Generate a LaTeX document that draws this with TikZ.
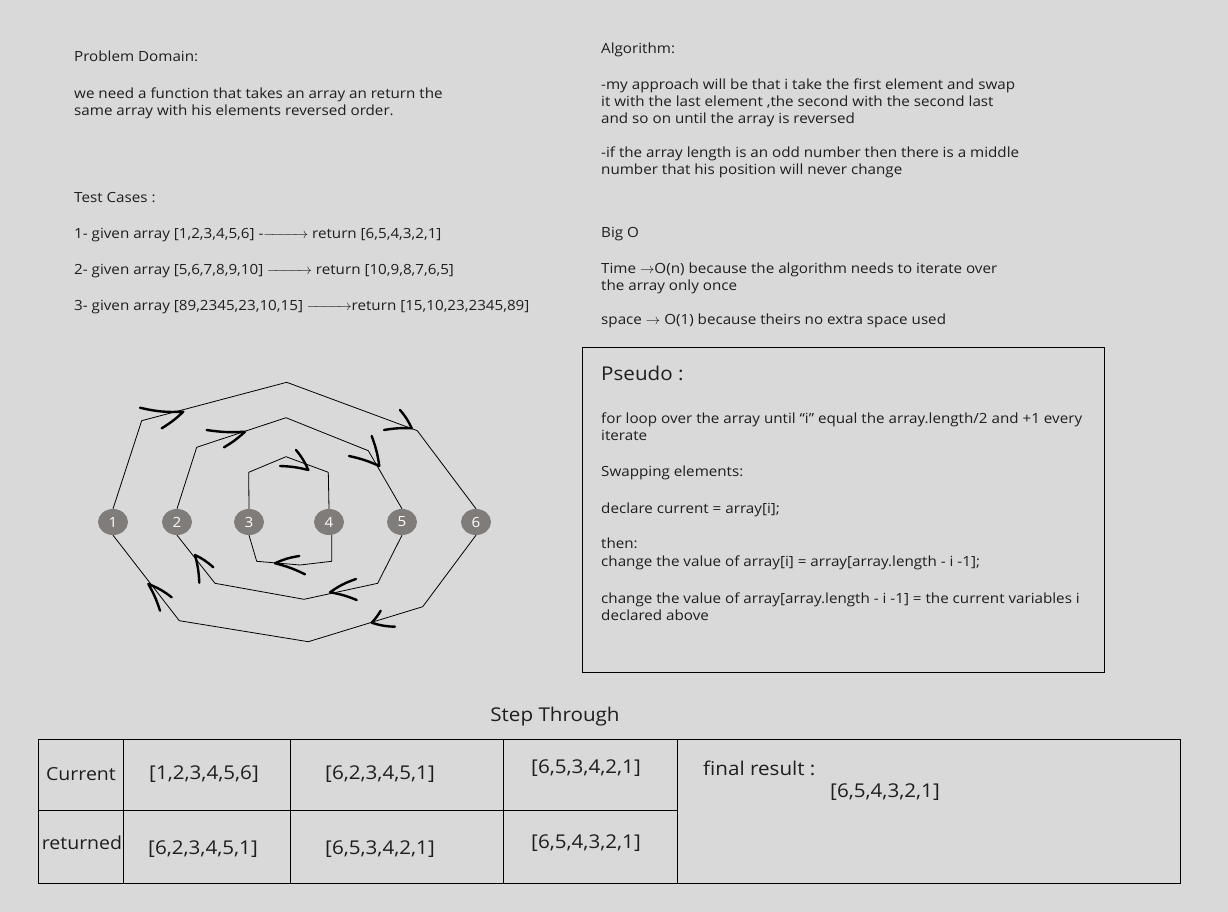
\documentclass[tikz,border=0pt]{standalone}
\usepackage{fontspec}
\usepackage{amsmath}
\setmainfont{Open Sans}[FakeStretch=1.085]
\usetikzlibrary{shapes.geometric}
\definecolor{bg}{HTML}{D9D9D9}
\definecolor{ink}{HTML}{1E1E1E}
\definecolor{dotc}{HTML}{7F7C7A}
\newcommand{\longarr}{$\xrightarrow{\hspace{37pt}}$}
\begin{document}
\begin{tikzpicture}[x=1pt,y=-1pt,
  txt/.style={anchor=base west, inner sep=0pt, text=ink, font=\fontsize{14}{17}\selectfont},
  bigtxt/.style={anchor=base west, inner sep=0pt, text=ink, font=\fontsize{19}{23}\selectfont},
  cell/.style={inner sep=0pt, text=ink, font=\fontsize{19}{23}\selectfont},
  dotnode/.style={ellipse, fill=dotc, minimum width=30pt, minimum height=26pt, inner sep=0pt, text=white, font=\fontsize{14}{17}\selectfont},
  wire/.style={draw=black, line width=0.8pt, line join=round},
  chev/.style={draw=black, line width=2.4pt, line cap=round, line join=round},
  frame/.style={draw=black, line width=0.9pt}]
\fill[bg] (0,0) rectangle (1228,912);
\useasboundingbox (0,0) rectangle (1228,912);

% Problem domain
\node[txt] (pd) at (74,62) {Problem Domain:};
\node[txt] (pd1) at (74,99) {we need a function that takes an array an return the};
\node[txt] (pd2) at (74,116) {same array with his elements reversed order.};
% Test cases
\node[txt] (tc) at (74,202) {Test Cases :};
\node[txt] (tc1) at (74,238) {1- given array [1,2,3,4,5,6] -\longarr{} return [6,5,4,3,2,1]};
\node[txt] (tc2) at (74,274) {2- given array [5,6,7,8,9,10] \longarr{} return [10,9,8,7,6,5]};
\node[txt] (tc3) at (74,310) {3- given array [89,2345,23,10,15] \longarr{}return [15,10,23,2345,89]};
% Algorithm
\node[txt] (al) at (601,54) {Algorithm:};
\node[txt] (al1) at (601,90) {-my approach will be that i take the first element and swap};
\node[txt] (al2) at (601,107) {it with the last element ,the second with the second last};
\node[txt] (al3) at (601,124) {and so on until the array is reversed};
\node[txt] (al4) at (601,158) {-if the array length is an odd number then there is a middle};
\node[txt] (al5) at (601,175) {number that his position will never change};
% Big O
\node[txt] (bo) at (601,237) {Big O};
\node[txt] (bo1) at (601,273) {Time $\rightarrow$O(n) because the algorithm needs to iterate over};
\node[txt] (bo2) at (601,290) {the array only once};
\node[txt] (bo3) at (601,324) {space $\rightarrow$ O(1) because theirs no extra space used};
% Pseudo
\draw[frame] (582,347) rectangle (1104,672);
\node[bigtxt] (ps) at (601,380) {Pseudo :};
\node[txt] (ps1) at (601,423) {for loop over the array until “i” equal the array.length/2 and +1 every};
\node[txt] (ps2) at (601,440) {iterate};
\node[txt] (ps3) at (601,476) {Swapping elements:};
\node[txt] (ps4) at (601,513) {declare current = array[i];};
\node[txt] (ps5) at (601,548) {then:};
\node[txt] (ps6) at (601,566) {change the value of array[i] = array[array.length - i -1];};
\node[txt] (ps7) at (601,603) {change the value of array[array.length - i -1] = the current variables i};
\node[txt] (ps8) at (601,620) {declared above};

% diagram nodes
\node[dotnode] (n1) at (113,522) {1};
\node[dotnode] (n2) at (177,522) {2};
\node[dotnode] (n3) at (249,522) {3};
\node[dotnode] (n4) at (329,522) {4};
\node[dotnode] (n5) at (402,522) {5};
\node[dotnode] (n6) at (476,522) {6};

% outer loop
\draw[wire] (n1.north) -- (141.7,420.7) -- (286.7,382.3) -- (417.3,430.7) -- (n6.north);
\draw[wire] (n6.south) -- (422.7,606.7) -- (308.3,641.7) -- (179.3,620.7) -- (n1.south);
% middle loop
\draw[wire] (n2.north) -- (196.7,447.3) -- (286,417.7) -- (368.3,450.7) -- (n5.north);
\draw[wire] (n5.south) -- (377.7,583.3) -- (304,599.3) -- (215,583.3) -- (n2.south);
% inner loop
\draw[wire] (n3.north) -- (248.7,472.3) -- (286,456.7) -- (328.3,472.3) -- (n4.north);
\coordinate (n4b) at ([xshift=2.7pt]n4.south);
\draw[wire] (n4b) -- (331.7,561.3) -- (300,565) -- (256.7,561.3) -- (n3.south);

% hand drawn chevrons
\draw[chev] (140,407.7) to[bend right=8] (183.3,411.7) to[bend left=6] (161.7,428.3);
\draw[chev] (400,410) to[bend left=8] (411.7,428.3) to[bend right=6] (384,430);
\draw[chev] (206.7,430) to[bend right=6] (245,431.7) to[bend left=6] (224,447.3);
\draw[chev] (371.7,436) to[bend left=6] (379.3,466) to[bend right=6] (349,456);
\draw[chev] (296,450) to[bend left=8] (308.3,470) to[bend right=6] (280,466);
\draw[chev] (299.3,556) to[bend right=8] (275,563.3) to[bend left=6] (305,574.3);
\draw[chev] (356,579) to[bend right=8] (330,592.3) to[bend left=6] (356.7,600);
\draw[chev] (213.3,567.3) to[bend right=8] (195,555) to[bend left=6] (199.3,582.7);
\draw[chev] (395,626.7) to[bend left=8] (371.7,622.7) to[bend right=6] (380.7,610.7);
\draw[chev] (171.7,597.3) to[bend right=8] (148.3,584) to[bend left=6] (160,610.7);

% Step through table
\node[cell] (st) at (555,717) {Step Through};
\draw[frame] (38,739) rectangle (1180,883);
\draw[frame] (38,810) -- (677,810);
\draw[frame] (123,739) -- (123,883);
\draw[frame] (290,739) -- (290,883);
\draw[frame] (503,739) -- (503,883);
\draw[frame] (677,739) -- (677,883);
\node[cell, font=\fontsize{18}{22}\selectfont] (c0) at (81,774) {Current};
\node[cell] (c1) at (204,774) {[1,2,3,4,5,6]};
\node[cell] (c2) at (380,774) {[6,2,3,4,5,1]};
\node[cell] (c3) at (586,768) {[6,5,3,4,2,1]};
\node[cell, font=\fontsize{18}{22}\selectfont] (r0) at (82,843) {returned};
\node[cell] (r1) at (203,849) {[6,2,3,4,5,1]};
\node[cell] (r2) at (380,849) {[6,5,3,4,2,1]};
\node[cell] (r3) at (586,843) {[6,5,4,3,2,1]};
\node[cell, anchor=west] (fr) at (703,768) {final result :};
\node[cell] (fv) at (885,792) {[6,5,4,3,2,1]};
\end{tikzpicture}
\end{document}
